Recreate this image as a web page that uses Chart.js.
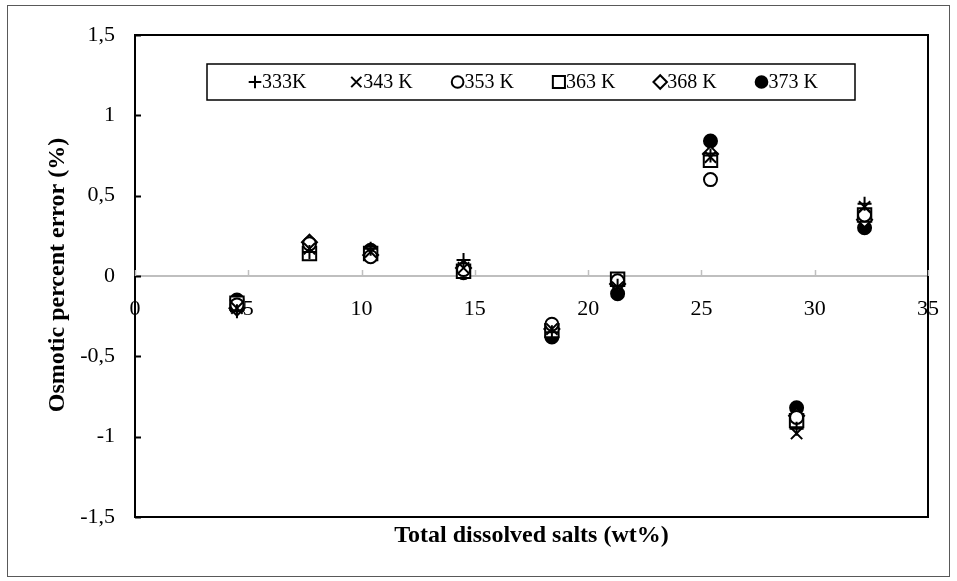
<!DOCTYPE html>
<html>
<head>
<meta charset="utf-8">
<script src="https://cdn.jsdelivr.net/npm/chart.js@4.4.1/dist/chart.umd.min.js"></script>
<style>
  html, body { margin: 0; padding: 0; background: #fff; }
  #wrap { width: 957px; height: 581px; }
</style>
</head>
<body>
<div id="wrap"><canvas id="osmotic"></canvas></div>
<script>
// total dissolved salts (wt%) of each sample
const salts = [4.5, 7.7, 10.4, 14.5, 18.4, 21.3, 25.4, 29.2, 32.2]

// osmotic percent error (%) for each temperature
const err333 = [-0.22, 0.15, 0.17, 0.10, -0.35, -0.06, 0.75, -0.95, 0.45]
const err343 = [-0.20, 0.17, 0.15, 0.05, -0.33, -0.07, 0.74, -0.98, 0.43]
const err353 = [-0.18, 0.20, 0.12, 0.04, -0.30, -0.03, 0.60, -0.88, 0.38]
const err363 = [-0.17, 0.14, 0.14, 0.03, -0.34, -0.02, 0.72, -0.90, 0.38]
const err368 = [-0.20, 0.21, 0.13, 0.05, -0.33, -0.05, 0.76, -0.87, 0.35]
const err373 = [-0.15, 0.14, 0.16, 0.02, -0.38, -0.11, 0.84, -0.82, 0.30]

const xTicks = [0, 5, 10, 15, 20, 25, 30, 35]
const yTicks = [-1.5, -1, -0.5, 0, 0.5, 1, 1.5]

const serif = '"Liberation Serif", "Times New Roman", serif'

// marker sizes so the shapes look alike in size
const sizes = { cross: 7, crossRot: 8, circle: 6.5, rect: 9.5, rectRot: 7.5 }

function pts(ys) {
  return salts.map((x, i) => ({ x: x, y: ys[i] }))
}

function series(label, ys, style, fill) {
  return {
    label: label,
    data: pts(ys),
    pointStyle: style,
    pointRadius: sizes[style],
    pointHoverRadius: sizes[style],
    pointBorderWidth: 2,
    pointBorderColor: '#000',
    pointBackgroundColor: fill,
    showLine: false
  }
}

// frame, titles, legend box and inward ticks
const decor = {
  id: 'decor',
  beforeDraw(chart) {
    const c = chart.ctx
    c.save()
    c.fillStyle = '#fff'
    c.fillRect(0, 0, chart.width, chart.height)
    c.restore()
  },
  afterDraw(chart) {
    const c = chart.ctx
    const a = chart.chartArea
    const xs = chart.scales.x
    const ys = chart.scales.y
    c.save()

    // outer frame
    c.strokeStyle = '#595959'
    c.lineWidth = 1
    c.strokeRect(7.5, 5.5, 942, 571)

    // plot border
    c.strokeStyle = '#000'
    c.lineWidth = 2
    c.strokeRect(a.left, a.top, a.right - a.left, a.bottom - a.top)

    // y ticks pointing in
    yTicks.forEach(v => {
      const py = Math.round(ys.getPixelForValue(v)) + 0.5
      c.beginPath()
      c.moveTo(a.left, py)
      c.lineTo(a.left + 6, py)
      c.stroke()
    })

    // x ticks pointing up from the zero line
    const y0 = Math.round(ys.getPixelForValue(0))
    c.strokeStyle = '#bfbfbf'
    c.lineWidth = 1.5
    xTicks.forEach(v => {
      const px = Math.round(xs.getPixelForValue(v)) + 0.5
      c.beginPath()
      c.moveTo(px, y0)
      c.lineTo(px, y0 - 6)
      c.stroke()
    })

    // axis titles
    c.fillStyle = '#000'
    c.font = 'bold 24px ' + serif
    c.textAlign = 'center'
    c.textBaseline = 'middle'
    c.fillText('Total dissolved salts (wt%)', (a.left + a.right) / 2, 536)
    c.translate(58, 275)
    c.rotate(-Math.PI / 2)
    c.fillText('Osmotic percent error (%)', 0, 0)
    c.setTransform(1, 0, 0, 1, 0, 0)

    // legend
    c.strokeStyle = '#000'
    c.lineWidth = 1.5
    c.strokeRect(207, 64, 648, 36)
    c.font = '20px ' + serif
    c.textAlign = 'left'
    chart.data.datasets.forEach((ds, i) => {
      const mx = 255 + i * 101.3
      c.fillStyle = ds.pointBackgroundColor
      c.strokeStyle = '#000'
      c.lineWidth = 2
      Chart.helpers.drawPoint(c, { pointStyle: ds.pointStyle, radius: ds.pointRadius * 0.9, borderWidth: 2 }, mx, 82)
      c.fillStyle = '#000'
      c.fillText(ds.label, mx + 7, 83)
    })
    c.restore()
  }
}

new Chart(document.getElementById('osmotic'), {
  type: 'scatter',
  data: {
    datasets: [
      series('333K', err333, 'cross', '#000'),
      series('343 K', err343, 'crossRot', '#000'),
      series('353 K', err353, 'circle', '#fff'),
      series('363 K', err363, 'rect', '#fff'),
      series('368 K', err368, 'rectRot', '#fff'),
      series('373 K', err373, 'circle', '#000')
    ]
  },
  options: {
    responsive: true,
    maintainAspectRatio: false,
    animation: false,
    layout: { padding: { top: 35, right: 29, bottom: 64, left: 0 } },
    plugins: {
      legend: { display: false },
      tooltip: { enabled: false }
    },
    scales: {
      x: {
        type: 'linear',
        min: 0,
        max: 35,
        position: { y: 0 },
        afterBuildTicks: s => { s.ticks = xTicks.map(v => ({ value: v })) },
        grid: { display: false },
        border: { color: '#bfbfbf', width: 2 },
        ticks: { color: '#000', padding: 12, font: { family: serif, size: 22 } }
      },
      y: {
        min: -1.5,
        max: 1.5,
        afterBuildTicks: s => { s.ticks = yTicks.map(v => ({ value: v })) },
        afterFit: s => { s.width = 135 },
        grid: { display: false },
        border: { color: '#000', width: 2 },
        ticks: {
          color: '#000',
          padding: 12,
          font: { family: serif, size: 22 },
          callback: v => String(v).replace('.', ',')
        }
      }
    }
  },
  plugins: [decor]
})
</script>
</body>
</html>
